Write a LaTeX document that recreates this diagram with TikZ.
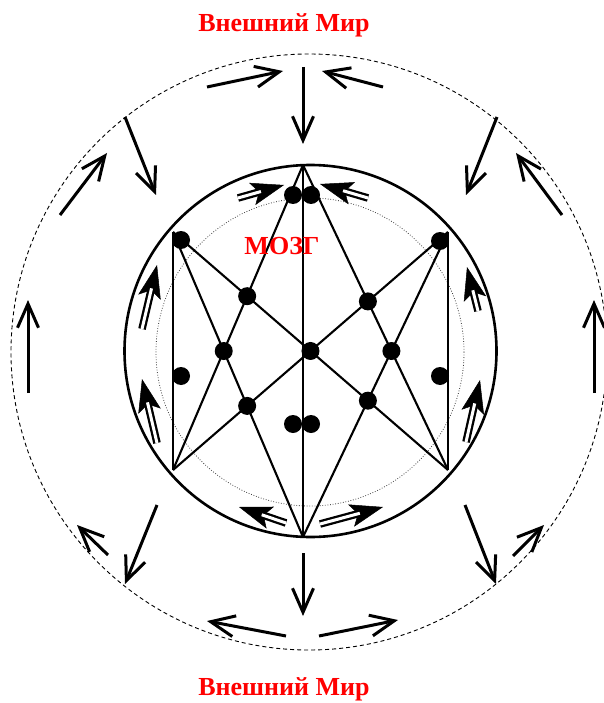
\documentclass[tikz,border=0pt]{standalone}
\usepackage{fontspec}
\setmainfont{Liberation Serif}
\usepackage{xcolor}
\usetikzlibrary{arrows.meta,positioning}

\tikzset{
  outarrow/.style={line width=3pt,-{Straight Barb[length=24pt,width=21pt]}},
  inhead/.style={line width=0.5pt,-{Stealth[length=33pt,width=23pt,inset=7pt]}},
  inshaft/.style={double,double distance=3pt,line width=2.3pt,shorten >=24pt},
  hexline/.style={line width=2.1pt},
  dot/.style={circle,fill,inner sep=0pt,minimum size=18pt},
  redlabel/.style={text=red,font=\fontsize{26}{30}\selectfont\bfseries,anchor=base}
}

\begin{document}
\begin{tikzpicture}[x=1pt,y=-1pt]
\useasboundingbox (0,0) rectangle (604,703);
% world and brain
\draw[line width=0.9pt,dash pattern=on 4pt off 3pt] (309,352) circle (298);
\draw[line width=0.8pt,black!75,dash pattern=on 0.8pt off 1.8pt] (310,352) circle (154);
\draw[line width=2.6pt] (310.5,351) circle (186);
% star
\coordinate (T) at (303,165);
\coordinate (B) at (303,537);
\coordinate (UL) at (173,232);
\coordinate (LL) at (173,470);
\coordinate (UR) at (448,232);
\coordinate (LR) at (448,470);
\draw[hexline] (T) -- (B);
\draw[hexline] (UL) -- (LL) (UR) -- (LR);
\draw[hexline] (T) -- (LL) (T) -- (LR);
\draw[hexline] (B) -- (UL) (B) -- (UR);
\draw[hexline] (UL) -- (LR) (UR) -- (LL);
% dots
\node[dot] (c) at (intersection of UL--LR and UR--LL) {};
\node[dot] (l1) at (intersection of T--LL and UL--LR) {};
\node[dot] (l2) at (intersection of T--LL and B--UL) {};
\node[dot] (l3) at (intersection of B--UL and UR--LL) {};
\node[dot] (r1) at (intersection of T--LR and UR--LL) {};
\node[dot] (r2) at (intersection of T--LR and B--UR) {};
\node[dot] (r3) at (intersection of B--UR and UL--LR) {};
\node[dot] (tl) at (293,195) {};
\node[dot] (tr) at (311,195) {};
\node[dot] (bl) at (293,424) {};
\node[dot] (br) at (311,424) {};
\node[dot] (ul) at (181,240) {};
\node[dot] (ur) at (440,241) {};
\node[dot] (ml) at (181,376) {};
\node[dot] (mr) at (440,376) {};
% flow inside
\foreach \xa/\ya/\xb/\yb in {238/198/284/185,368/198/320/184,142/329/157/265,157/443/142/379,478/311/467/267,466/442/480/380,286/523/239/507,320/524/383/507}{
  \draw[inhead] (\xa,\ya) -- (\xb,\yb);
  \draw[inshaft] (\xa,\ya) -- (\xb,\yb);}
% flow outside
\foreach \xa/\ya/\xb/\yb in {303/67/303/144,207/87/283/71,383/87/322/71,125/117/156/195,60/215/107/153,28/393/28/300,497/117/466/195,562/215/516/153,594/393/594/300,303/553/303/616,286/636/207/621,319/636/398/620,157/505/125/584,108/555/77/525,465/505/496/584,513/556/544/525}
  \draw[outarrow] (\xa,\ya) -- (\xb,\yb);
% labels
\node[redlabel] (wtop) at (284,32) {Внешний Мир};
\node[redlabel] (wbot) at (284,695) {Внешний Мир};
\node[redlabel] (brain) at (282,254) {МОЗГ};
\end{tikzpicture}
\end{document}
